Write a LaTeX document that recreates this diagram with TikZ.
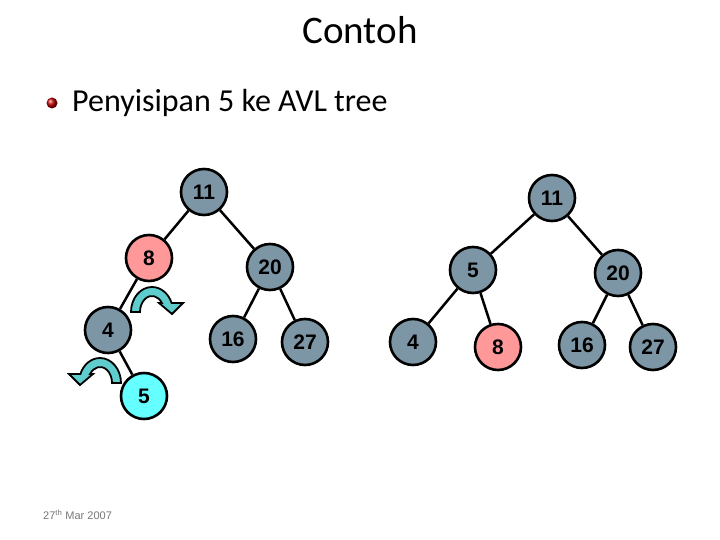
\documentclass[tikz,border=0pt]{standalone}
\usepackage{fontspec}
\setmainfont{Carlito}
\newfontfamily\arialfont{Liberation Sans}
\definecolor{nodegrey}{RGB}{125,150,165}
\definecolor{nodepink}{RGB}{255,153,153}
\definecolor{nodecyan}{RGB}{102,255,255}
\definecolor{arrowcyan}{RGB}{95,205,205}
\definecolor{dategrey}{RGB}{120,120,120}
\tikzset{
  tn/.style={circle, draw=black, line width=2.6pt, minimum size=46pt, inner sep=0pt,
    fill=nodegrey, font=\arialfont\bfseries\fontsize{21}{25}\selectfont},
  pinknode/.style={tn, fill=nodepink},
  cyannode/.style={tn, fill=nodecyan},
  edge/.style={draw=black, line width=2.5pt},
  rotarrow/.pic={
    \path[yscale=-1, draw=black, line width=1.8pt, fill=arrowcyan, line join=miter]
      (-21,0) arc[start angle=180, end angle=21, x radius=21, y radius=25]
      -- (31,9) -- (20,-2) -- (7,9) -- (9.9,9)
      arc[start angle=34.2, end angle=180, x radius=12, y radius=16] -- cycle;
  }
}
\begin{document}
\begin{tikzpicture}[x=1pt,y=-1pt]
\useasboundingbox[fill=white] (0,0) rectangle (720,540);
\node (title) at (360,30) {\fontsize{39}{44}\selectfont Contoh};
\shade[ball color=red!75!black] (52,103) circle (5.5);
\node[anchor=base west, inner sep=0pt] (bullet) at (72,112) {\fontsize{32}{38}\selectfont Penyisipan 5 ke AVL tree};
% left tree
\node[tn] (a11) at (204,192) {11};
\node[pinknode] (a8) at (149,258) {8};
\node[tn] (a20) at (270,267) {20};
\node[tn] (a4) at (108,330) {4};
\node[tn] (a16) at (233,339) {16};
\node[tn] (a27) at (305,342) {27};
\node[cyannode] (a5) at (144,396) {5};
\path[edge] (a11) -- (a8) (a11) -- (a20) (a8) -- (a4) (a4) -- (a5) (a20) -- (a16) (a20) -- (a27);
\pic at (152,312) {rotarrow};
\pic[xscale=-1] at (100,383) {rotarrow};
% right tree
\node[tn] (b11) at (552,198) {11};
\node[tn] (b5) at (473,270) {5};
\node[tn] (b20) at (618,273) {20};
\node[tn] (b4) at (413,342) {4};
\node[pinknode] (b8) at (498,347) {8};
\node[tn] (b16) at (582,345) {16};
\node[tn] (b27) at (653,347) {27};
\path[edge] (b11) -- (b5) (b11) -- (b20) (b5) -- (b4) (b5) -- (b8) (b20) -- (b16) (b20) -- (b27);
\node[anchor=base west, inner sep=0pt, text=dategrey] (date) at (43,519)
  {\arialfont\fontsize{11}{13}\selectfont 27\textsuperscript{th} Mar 2007};
\end{tikzpicture}
\end{document}
